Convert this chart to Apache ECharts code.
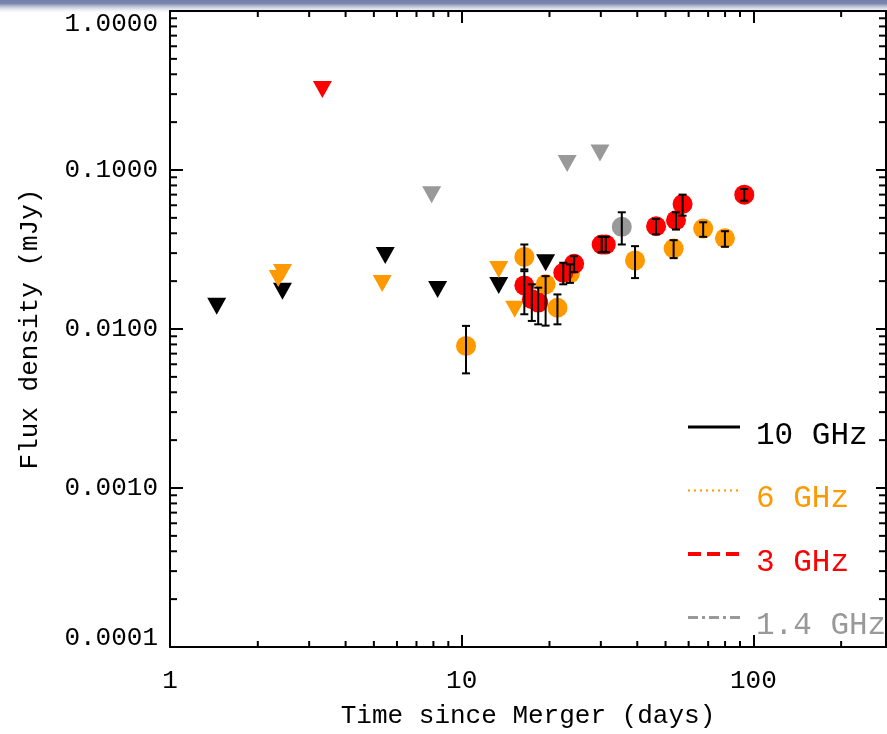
<!DOCTYPE html>
<html><head><meta charset="utf-8">
<script src="https://cdn.jsdelivr.net/npm/echarts@6/dist/echarts.min.js"></script>
<style>html,body{margin:0;padding:0;background:#fff}#c{width:887px;height:734px}</style>
</head><body><div id="c"></div>
<script>
// ---- data: [time (days), flux (mJy), lower error, upper error]
const det6GHz = [
  [10.35, 0.00783, 0.00526, 0.01046],
  [16.4, 0.0284, 0.0237, 0.034],
  [19.4, 0.0191, 0.0105, 0.0215],
  [21.3, 0.0136, 0.0107, 0.0165],
  [23.5, 0.0224, 0.0195, 0.0255],
  [39.3, 0.027, 0.0209, 0.0332],
  [53.3, 0.0321, 0.0279, 0.0362],
  [67.3, 0.0428, 0.038, 0.0469],
  [79.9, 0.0372, 0.0329, 0.0412]
];
const det3GHz = [
  [16.4, 0.0188, 0.01238, 0.0231],
  [17.4, 0.01538, 0.01124, 0.0191],
  [18.3, 0.01466, 0.0107, 0.0182],
  [22.3, 0.0226, 0.0191, 0.0261],
  [24.3, 0.0257, 0.0228, 0.0287],
  [30.2, 0.034, 0.0304, 0.038],
  [31.2, 0.034, 0.0304, 0.038],
  [46.4, 0.0443, 0.0394, 0.0492],
  [54.3, 0.0483, 0.0422, 0.0542],
  [57.2, 0.0611, 0.0516, 0.070],
  [93.1, 0.070, 0.0641, 0.0759]
];
const det1p4GHz = [
  [35.4, 0.0439, 0.034, 0.0542]
];
// upper limits: [time (days), flux (mJy)]
const lim10GHz = [[1.446, 0.0139], [2.43, 0.0173], [5.47, 0.029], [8.27, 0.0177], [13.4, 0.0188], [19.4, 0.0261]];
const lim6GHz = [[2.35, 0.0208], [2.43, 0.0227], [5.34, 0.0193], [13.4, 0.0237], [15.2, 0.0133]];
const lim3GHz = [[3.33, 0.321]];
const lim1p4GHz = [[7.89, 0.070], [23.0, 0.110], [29.8, 0.128]];
const bandNames = ['10 GHz', '6 GHz', '3 GHz', '1.4 GHz'];
const xTickLabels = [1, 10, 100];
const yTickLabels = ['0.0001', '0.0010', '0.0100', '0.1000', '1.0000'];

const X_MIN = 1, X_MAX = 285, Y_MIN = 0.0001, Y_MAX = 1;
const COL = {k: '#000000', o: '#FF9900', r: '#FF0000', g: '#999999'};
const FONT = '"Liberation Mono", "DejaVu Sans Mono", monospace';

const xMinor = [];
for (let e = 0; e <= 2; e++) for (let m = 2; m <= 9; m++) { const v = m * Math.pow(10, e); if (v < X_MAX) xMinor.push([v]); }
const yMinor = [];
for (let e = -4; e <= -1; e++) for (let m = 2; m <= 9; m++) yMinor.push([X_MIN, m * Math.pow(10, e)]);

function renderErr(params, api) {
  const x = api.value(0), lo = api.value(1), hi = api.value(2);
  const pl = api.coord([x, lo]), ph = api.coord([x, hi]);
  const w = 4, st = {stroke: '#000', lineWidth: 2};
  return {type: 'group', children: [
    {type: 'line', shape: {x1: pl[0], y1: pl[1], x2: ph[0], y2: ph[1]}, style: st},
    {type: 'line', shape: {x1: pl[0] - w, y1: pl[1], x2: pl[0] + w, y2: pl[1]}, style: st},
    {type: 'line', shape: {x1: ph[0] - w, y1: ph[1], x2: ph[0] + w, y2: ph[1]}, style: st}
  ]};
}
function renderXMinor(params, api) {
  const v = api.value(0);
  const b = api.coord([v, Y_MIN]), t = api.coord([v, Y_MAX]);
  const st = {stroke: '#000', lineWidth: 2};
  return {type: 'group', children: [
    {type: 'line', shape: {x1: b[0], y1: b[1], x2: b[0], y2: b[1] - 6}, style: st},
    {type: 'line', shape: {x1: t[0], y1: t[1], x2: t[0], y2: t[1] + 6}, style: st}
  ]};
}
function renderYMinor(params, api) {
  const v = api.value(1);
  const l = api.coord([X_MIN, v]), r = api.coord([X_MAX, v]);
  const st = {stroke: '#000', lineWidth: 2};
  return {type: 'group', children: [
    {type: 'line', shape: {x1: l[0], y1: l[1], x2: l[0] + 7, y2: l[1]}, style: st},
    {type: 'line', shape: {x1: r[0], y1: r[1], x2: r[0] - 7, y2: r[1]}, style: st}
  ]};
}

const axisCommon = {
  axisLine: {show: true, onZero: false, lineStyle: {color: '#000', width: 2}},
  axisTick: {show: true, inside: true, length: 12, lineStyle: {color: '#000', width: 2}},
  splitLine: {show: false}
};

function circles(name, data, color) {
  return {type: 'scatter', name: name, data: data, encode: {x: 0, y: 1}, symbol: 'circle', symbolSize: 20,
    itemStyle: {color: color, opacity: 1}, z: 3};
}
function limits(name, data, color) {
  return {type: 'scatter', name: name, data: data, encode: {x: 0, y: 1}, symbol: 'triangle', symbolRotate: 180,
    symbolSize: [19, 17], itemStyle: {color: color, opacity: 1}, z: 3};
}
const errData = det6GHz.concat(det3GHz, det1p4GHz).map(d => [d[0], d[2], d[3]]);

// legend line samples (layout only)
const LEG_X = 688, LEG_W = 52, LEG_Y0 = 427, LEG_DY = 63.5;
const legendStyles = [
  {stroke: COL.k, lineWidth: 3},
  {stroke: COL.o, lineWidth: 2, lineDash: [2, 4]},
  {stroke: COL.r, lineWidth: 4, lineDash: [13, 6]},
  {stroke: COL.g, lineWidth: 3, lineDash: [10, 4, 3, 4]}
];
const legendLines = legendStyles.map((st, i) => ({
  type: 'line', z: 10, silent: true,
  shape: {x1: LEG_X, y1: LEG_Y0 + i * LEG_DY, x2: LEG_X + LEG_W, y2: LEG_Y0 + i * LEG_DY},
  style: st
}));

const chart = echarts.init(document.getElementById('c'), null, {renderer: 'canvas'});
chart.setOption({
  animation: false,
  backgroundColor: '#fff',
  textStyle: {fontFamily: FONT},
  graphic: [{type: 'rect', left: 0, top: 0, z: -10, shape: {width: 887, height: 14},
    style: {fill: new echarts.graphic.LinearGradient(0, 0, 0, 1, [
      {offset: 0, color: '#7480a8'}, {offset: 0.25, color: '#7a86ad'}, {offset: 1, color: 'rgba(255,255,255,0)'}])}}]
    .concat(legendLines),
  grid: {left: 170, right: 1, top: 11, bottom: 85},
  legend: {
    orient: 'vertical', left: 688, top: 420, padding: 0, itemWidth: 52, itemHeight: 14, itemGap: 32.5,
    selectedMode: false,
    itemStyle: {opacity: 0},
    lineStyle: {opacity: 0},
    formatter: name => '{t|' + name + '}',
    textStyle: {fontFamily: FONT, fontSize: 31,
      rich: {t: {fontFamily: FONT, fontSize: 31, padding: [16, 0, 0, 10]}}},
    data: [
      {name: bandNames[0], textStyle: {color: COL.k}},
      {name: bandNames[1], textStyle: {color: COL.o}},
      {name: bandNames[2], textStyle: {color: COL.r}},
      {name: bandNames[3], textStyle: {color: COL.g}}
    ]
  },
  xAxis: [
    Object.assign({}, axisCommon, {type: 'log', logBase: 10, min: X_MIN, max: X_MAX, position: 'bottom',
      name: 'Time since Merger (days)', nameLocation: 'middle', nameGap: 56,
      nameTextStyle: {fontFamily: FONT, fontSize: 26, color: '#000'},
      axisLabel: {fontFamily: FONT, fontSize: 26, color: '#000', margin: 21, showMaxLabel: false,
        formatter: v => { const r = Math.round(v); return xTickLabels.indexOf(r) >= 0 ? String(r) : ''; }}}),
    Object.assign({}, axisCommon, {type: 'log', logBase: 10, min: X_MIN, max: X_MAX, position: 'top',
      axisLabel: {show: false}})
  ],
  yAxis: [
    Object.assign({}, axisCommon, {type: 'log', logBase: 10, min: Y_MIN, max: Y_MAX, position: 'left',
      name: 'Flux density (mJy)', nameLocation: 'middle', nameGap: 127, nameRotate: 90,
      nameTextStyle: {fontFamily: FONT, fontSize: 26, color: '#000'},
      axisTick: {show: true, inside: true, length: 13, lineStyle: {color: '#000', width: 2}},
      axisLabel: {fontFamily: FONT, fontSize: 26, color: '#000', margin: 12,
        verticalAlignMaxLabel: 'top', verticalAlignMinLabel: 'middle',
        formatter: v => { const s = v.toFixed(4); return yTickLabels.indexOf(s) >= 0 ? (s === '0.0001' ? '{lo|' + s + '}' : s) : ''; },
        rich: {lo: {fontFamily: FONT, fontSize: 26, color: '#000', padding: [0, 0, 18, 0]}}}}),
    Object.assign({}, axisCommon, {type: 'log', logBase: 10, min: Y_MIN, max: Y_MAX, position: 'right',
      axisTick: {show: true, inside: true, length: 10, lineStyle: {color: '#000', width: 2}},
      axisLabel: {show: false}})
  ],
  series: [
    {type: 'custom', name: 'xminor', data: xMinor, encode: {x: 0}, renderItem: renderXMinor, clip: false, silent: true, z: 1},
    {type: 'custom', name: 'yminor', data: yMinor, encode: {x: 0, y: 1}, renderItem: renderYMinor, clip: false, silent: true, z: 1},
    {type: 'line', name: bandNames[0], data: [], symbol: 'none', lineStyle: {color: COL.k}, itemStyle: {color: COL.k}},
    {type: 'line', name: bandNames[1], data: [], symbol: 'none', lineStyle: {color: COL.o}, itemStyle: {color: COL.o}},
    {type: 'line', name: bandNames[2], data: [], symbol: 'none', lineStyle: {color: COL.r}, itemStyle: {color: COL.r}},
    {type: 'line', name: bandNames[3], data: [], symbol: 'none', lineStyle: {color: COL.g}, itemStyle: {color: COL.g}},
    limits('10 GHz limits', lim10GHz, COL.k),
    limits('6 GHz limits', lim6GHz, COL.o),
    limits('3 GHz limits', lim3GHz, COL.r),
    limits('1.4 GHz limits', lim1p4GHz, COL.g),
    circles('6 GHz detections', det6GHz, COL.o),
    circles('3 GHz detections', det3GHz, COL.r),
    circles('1.4 GHz detections', det1p4GHz, COL.g),
    {type: 'custom', name: 'errors', data: errData, encode: {x: 0, y: [1, 2]}, renderItem: renderErr, clip: false, silent: true, z: 4}
  ]
});
</script></body></html>
